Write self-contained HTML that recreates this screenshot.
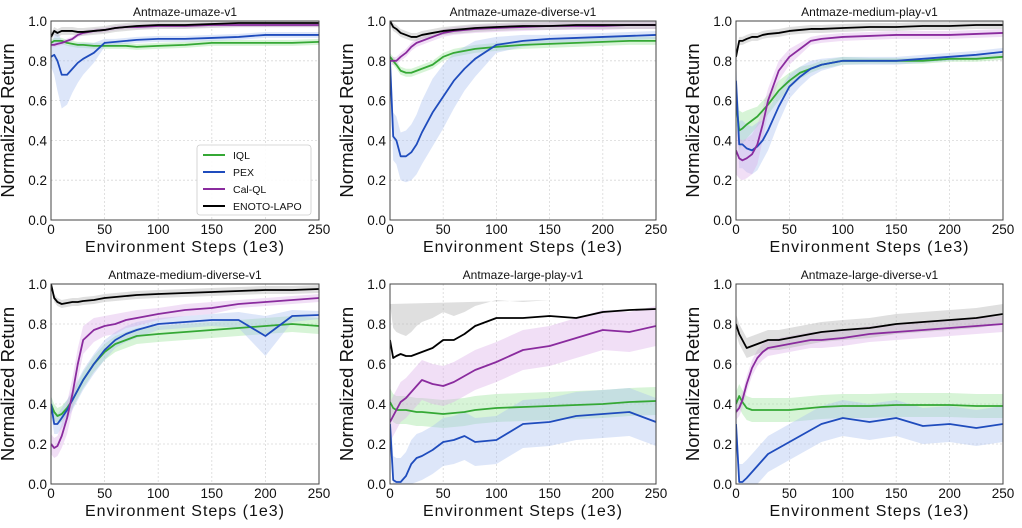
<!DOCTYPE html>
<html><head><meta charset="utf-8">
<style>
html,body{margin:0;padding:0;background:#fff;}
svg{display:block;font-family:"Liberation Sans",sans-serif;}
</style></head>
<body>
<svg id="fig" width="1022" height="528" viewBox="0 0 1022 528" xmlns="http://www.w3.org/2000/svg"></svg>
<script>
const xs = [0,3,6,10,15,20,25,30,40,50,60,70,80,100,125,150,175,200,225,250];
const xTicks = [0,50,100,150,200,250];
const yTicks = [0.0,0.2,0.4,0.6,0.8,1.0];
const seriesNames = ["IQL","PEX","Cal-QL","ENOTO-LAPO"];
const titles = ["Antmaze-umaze-v1","Antmaze-umaze-diverse-v1","Antmaze-medium-play-v1","Antmaze-medium-diverse-v1","Antmaze-large-play-v1","Antmaze-large-diverse-v1"];

const p1_iql = [0.89,0.90,0.90,0.90,0.89,0.885,0.88,0.88,0.875,0.875,0.875,0.875,0.87,0.875,0.88,0.89,0.89,0.89,0.89,0.895];
const p1_pex = [0.82,0.83,0.80,0.73,0.73,0.76,0.79,0.81,0.84,0.89,0.895,0.90,0.905,0.91,0.91,0.915,0.92,0.93,0.93,0.93];
const p1_cal = [0.88,0.88,0.885,0.89,0.90,0.91,0.93,0.94,0.95,0.955,0.965,0.97,0.97,0.975,0.975,0.98,0.98,0.98,0.98,0.98];
const p1_eno = [0.92,0.95,0.94,0.95,0.95,0.95,0.945,0.945,0.95,0.955,0.965,0.97,0.975,0.98,0.98,0.985,0.99,0.99,0.99,0.99];
const p1_sd = [0.015,[0.05,0.1,0.15,0.17,0.15,0.12,0.1,0.08,0.05,0.02,0.015,0.015,0.015,0.015,0.015,0.015,0.015,0.015,0.015,0.015],0.012,0.02];

const p2_iql = [0.82,0.80,0.78,0.75,0.74,0.74,0.75,0.76,0.78,0.82,0.84,0.85,0.86,0.87,0.88,0.885,0.89,0.895,0.90,0.90];
const p2_pex = [0.80,0.42,0.40,0.32,0.32,0.34,0.38,0.44,0.54,0.62,0.70,0.76,0.81,0.88,0.90,0.91,0.915,0.92,0.925,0.93];
const p2_cal = [0.80,0.80,0.80,0.82,0.84,0.87,0.89,0.90,0.92,0.94,0.95,0.955,0.96,0.965,0.97,0.975,0.975,0.975,0.98,0.98];
const p2_eno = [1.0,0.97,0.96,0.94,0.93,0.92,0.92,0.93,0.94,0.95,0.955,0.96,0.965,0.97,0.975,0.975,0.98,0.98,0.98,0.98];
const p2_sd = [0.02,[0.1,0.12,0.12,0.12,0.13,0.14,0.15,0.16,0.17,0.16,0.14,0.11,0.09,0.04,0.03,0.02,0.02,0.02,0.02,0.02],0.02,0.02];

const p3_iql = [0.60,0.45,0.46,0.48,0.50,0.52,0.55,0.58,0.65,0.70,0.74,0.76,0.78,0.80,0.80,0.80,0.80,0.81,0.81,0.82];
const p3_pex = [0.70,0.38,0.38,0.36,0.35,0.37,0.40,0.45,0.57,0.67,0.72,0.76,0.78,0.80,0.80,0.80,0.81,0.82,0.83,0.845];
const p3_cal = [0.35,0.31,0.30,0.31,0.33,0.38,0.48,0.60,0.75,0.82,0.86,0.90,0.91,0.92,0.925,0.93,0.93,0.93,0.935,0.94];
const p3_eno = [0.82,0.90,0.90,0.91,0.92,0.92,0.93,0.935,0.94,0.95,0.955,0.96,0.96,0.965,0.97,0.97,0.975,0.975,0.98,0.98];
const p3_sd = [[0.1,0.1,0.08,0.07,0.06,0.05,0.05,0.05,0.05,0.04,0.03,0.02,0.02,0.02,0.015,0.015,0.015,0.015,0.015,0.015],[0.1,0.12,0.12,0.12,0.12,0.12,0.1,0.1,0.08,0.06,0.05,0.04,0.03,0.02,0.02,0.02,0.02,0.02,0.02,0.02],[0.12,0.1,0.1,0.1,0.1,0.1,0.08,0.06,0.05,0.04,0.03,0.02,0.02,0.02,0.02,0.02,0.02,0.02,0.02,0.02],0.02];

const p4_iql = [0.40,0.36,0.34,0.35,0.38,0.42,0.47,0.52,0.60,0.66,0.70,0.72,0.74,0.75,0.76,0.77,0.78,0.79,0.80,0.79];
const p4_pex = [0.40,0.30,0.30,0.33,0.37,0.42,0.47,0.52,0.60,0.67,0.72,0.75,0.77,0.80,0.81,0.82,0.82,0.74,0.84,0.845];
const p4_cal = [0.20,0.18,0.19,0.24,0.33,0.45,0.60,0.72,0.77,0.79,0.80,0.82,0.83,0.85,0.87,0.88,0.90,0.91,0.92,0.93];
const p4_eno = [1.0,0.93,0.91,0.90,0.905,0.91,0.91,0.915,0.92,0.93,0.935,0.94,0.945,0.95,0.955,0.96,0.965,0.97,0.97,0.975];
const p4_sd = [0.04,[0.05,0.05,0.05,0.05,0.05,0.05,0.05,0.05,0.05,0.05,0.04,0.04,0.04,0.03,0.03,0.03,0.04,0.1,0.03,0.02],[0.05,0.05,0.05,0.06,0.08,0.08,0.08,0.07,0.06,0.05,0.05,0.04,0.04,0.03,0.03,0.03,0.02,0.02,0.02,0.02],0.02];

const p5_iql = [0.41,0.38,0.37,0.37,0.37,0.365,0.36,0.36,0.355,0.35,0.355,0.36,0.37,0.38,0.385,0.39,0.395,0.40,0.41,0.415];
const p5_pex = [0.30,0.02,0.01,0.01,0.04,0.10,0.13,0.14,0.17,0.21,0.22,0.24,0.21,0.22,0.30,0.31,0.34,0.35,0.36,0.31];
const p5_cal = [0.31,0.34,0.37,0.41,0.43,0.46,0.49,0.52,0.50,0.49,0.51,0.54,0.57,0.61,0.67,0.69,0.73,0.77,0.76,0.79];
const p5_eno = [0.72,0.63,0.64,0.65,0.64,0.64,0.65,0.66,0.68,0.72,0.72,0.75,0.79,0.83,0.83,0.84,0.83,0.86,0.87,0.875];
const p5_sd = [0.07,0.12,0.1,[0.18,0.15,0.12,0.1,0.1,0.12,0.14,0.15,0.15,0.14,0.12,0.11,0.1,0.09,0.08,0.08]];

const p6_iql = [0.40,0.44,0.41,0.38,0.37,0.37,0.37,0.37,0.37,0.37,0.375,0.38,0.385,0.39,0.39,0.395,0.395,0.395,0.39,0.39];
const p6_pex = [0.30,0.01,0.01,0.03,0.06,0.09,0.12,0.15,0.18,0.21,0.24,0.27,0.30,0.33,0.31,0.33,0.29,0.30,0.28,0.30];
const p6_cal = [0.36,0.38,0.42,0.50,0.58,0.63,0.66,0.68,0.69,0.70,0.71,0.72,0.72,0.73,0.75,0.76,0.77,0.78,0.79,0.80];
const p6_eno = [0.80,0.75,0.72,0.68,0.69,0.70,0.71,0.72,0.72,0.73,0.74,0.75,0.76,0.77,0.78,0.80,0.81,0.82,0.83,0.85];
const p6_sd = [0.06,0.09,0.04,0.05];

const panelSeries = [[p1_iql,p1_pex,p1_cal,p1_eno],[p2_iql,p2_pex,p2_cal,p2_eno],[p3_iql,p3_pex,p3_cal,p3_eno],[p4_iql,p4_pex,p4_cal,p4_eno],[p5_iql,p5_pex,p5_cal,p5_eno],[p6_iql,p6_pex,p6_cal,p6_eno]];
const panelSd = [p1_sd,p2_sd,p3_sd,p4_sd,p5_sd,p6_sd];

const colors = ["#35a835","#1f4cbd","#8a2b9e","#000000"];
const bands = ["#9be39b","#a9c0f0","#dcb0e8","#b0b0b0"];
const NS = "http://www.w3.org/2000/svg";
const svg = document.getElementById('fig');
function mk(tag, attrs, parent){const e=document.createElementNS(NS,tag);for(const k in attrs)e.setAttribute(k,attrs[k]);(parent||svg).appendChild(e);return e;}

const colX = [51,390,736], colW = [268,266,267];
const rowY = [21,284], rowH = [199,200];
const slug = ["umaze","umaze-diverse","medium-play","medium-diverse","large-play","large-diverse"];

for(let p=0;p<6;p++){
  const r=Math.floor(p/3), c=p%3;
  const L=colX[c], T=rowY[r], W=colW[c], H=rowH[r];
  const X=v=>L+v/250*W, Y=v=>T+H-v*H;
  const g=mk('g',{});
  
  
  xTicks.forEach(t=>{const l=mk('line',{x1:X(t),x2:X(t),y1:T,y2:T+H,stroke:'#d8d8d8','stroke-width':0.8,'stroke-dasharray':'2,2'},g);});
  yTicks.forEach(t=>{const l=mk('line',{x1:L,x2:L+W,y1:Y(t),y2:Y(t),stroke:'#d8d8d8','stroke-width':0.8,'stroke-dasharray':'2,2'},g);});
  const clipId='clip'+p;
  const cp=mk('clipPath',{id:clipId},g);mk('rect',{x:L,y:T,width:W,height:H},cp);
  const plot=mk('g',{'clip-path':'url(#'+clipId+')'},g);
  const ser=panelSeries[p], sds=panelSd[p];
  ser.forEach((vals,s)=>{
    const sd=sds[s];
    const sdAt=i=>Array.isArray(sd)?sd[i]:sd;
    let up=vals.map((v,i)=>X(xs[i])+','+Y(Math.min(1.02,v+sdAt(i))));
    let lo=vals.map((v,i)=>X(xs[i])+','+Y(Math.max(0,v-sdAt(i)))).reverse();
    const b=mk('polygon',{points:up.concat(lo).join(' '),fill:bands[s],'fill-opacity':0.4,stroke:'none'},plot);
    
    
  });
  ser.forEach((vals,s)=>{
    const pl=mk('polyline',{points:vals.map((v,i)=>X(xs[i])+','+Y(v)).join(' '),fill:'none',stroke:colors[s],'stroke-width':1.8,'stroke-linejoin':'round'},plot);
    
    
  });
  const fr=mk('rect',{x:L,y:T,width:W,height:H,fill:'none',stroke:'#444','stroke-width':1},g);
  
  xTicks.forEach(t=>{const tx=mk('text',{x:X(t),y:T+H+14,'text-anchor':'middle','font-size':13.5,fill:'#111'},g);tx.textContent=t;});
  yTicks.forEach(t=>{const tx=mk('text',{x:L-4,y:Y(t)+5,'text-anchor':'end','font-size':13.5,fill:'#111'},g);tx.textContent=t.toFixed(1);});
  const ti=mk('text',{x:L+W/2,y:T-5,'text-anchor':'middle','font-size':12,fill:'#111'},g);ti.textContent=titles[p];
  
  const xl=mk('text',{x:L+W/2,y:T+H+32,'text-anchor':'middle','font-size':16,'letter-spacing':1,fill:'#111'},g);xl.textContent='Environment Steps (1e3)';
  
  const yl=mk('text',{x:0,y:0,'text-anchor':'middle','font-size':18.5,fill:'#111',transform:'translate('+(L-37)+','+(T+H/2)+') rotate(-90)'},g);yl.textContent='Normalized Return';
  
}
const lg=mk('g',{});


mk('rect',{x:197,y:145,width:114,height:70,rx:3,fill:'#fff','fill-opacity':0.9,stroke:'#ccc','stroke-width':0.8},lg);
seriesNames.forEach((n,s)=>{
  const y=155+s*17;
  const e=mk('g',{},lg);
  
  
  mk('line',{x1:203,x2:225,y1:y,y2:y,stroke:colors[s],'stroke-width':2},e);
  const t=mk('text',{x:233,y:y+4,'font-size':10.5,fill:'#111'},e);t.textContent=n;
});
</script>
</body></html>
